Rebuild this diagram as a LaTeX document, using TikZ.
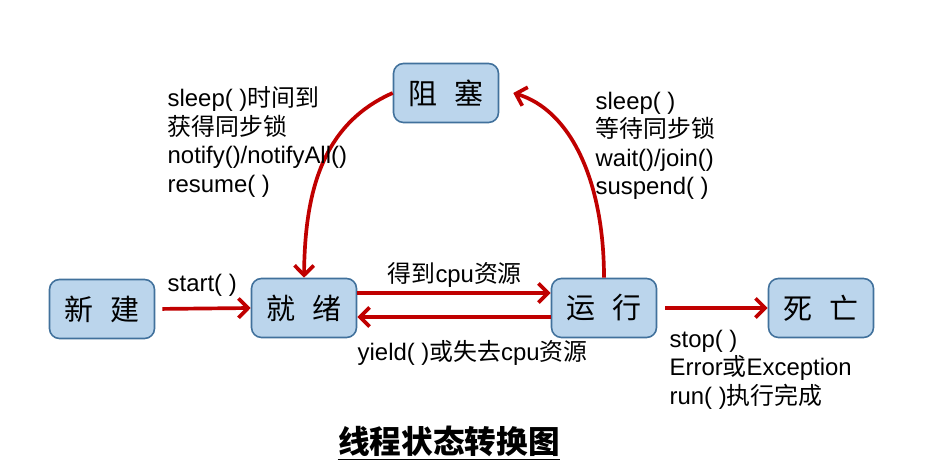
\documentclass[tikz,border=0pt]{standalone}
\usepackage{fontspec}
\setmainfont{Liberation Sans}
\newfontfamily\cjk{Noto Sans CJK SC}
\usetikzlibrary{arrows.meta}
\definecolor{boxfill}{RGB}{187,213,236}
\definecolor{boxline}{RGB}{65,113,156}
\definecolor{arrowred}{RGB}{192,0,0}

\begin{document}
\begin{tikzpicture}[>={Straight Barb[length=5.5pt,width=11pt]},thick,
  state/.style={draw=boxline,fill=boxfill,line width=0.9pt,rounded corners=0.2cm,
    minimum width=2.1cm,minimum height=1.18cm,font=\cjk\fontsize{16.5}{19}\selectfont},
  trans/.style={->,line width=2.1pt,color=arrowred},
  lbl/.style={inner sep=0pt,align=left,font=\fontsize{13.6}{16.3}\selectfont}]

\useasboundingbox (0,0) rectangle (18.76,9.38);

\node[state] (xinjian) at ( 2.04,3.20) {新\hspace{0.34cm}建};
\node[state] (jiuxu)   at ( 6.08,3.22) {就\hspace{0.34cm}绪};
\node[state] (zuse)    at ( 8.92,7.52) {阻\hspace{0.34cm}塞};
\node[state] (yunxing) at (12.08,3.22) {运\hspace{0.34cm}行};
\node[state] (siwang)  at (16.42,3.22) {死\hspace{0.34cm}亡};

\draw[trans,shorten <=0.14cm] (xinjian.east) -- (jiuxu.west);
\draw[trans] ([yshift=0.30cm]jiuxu.east) -- ([yshift=0.30cm]yunxing.west);
\draw[trans] ([yshift=-0.18cm]yunxing.west) -- ([yshift=-0.18cm]jiuxu.east);
\draw[trans,shorten <=0.16cm] (yunxing.east) -- (siwang.west);

\draw[trans] (zuse.west) .. controls (6.40,6.88) and (6.10,5.46) .. (jiuxu.north);
\draw[trans] (yunxing.north) .. controls (12.08,5.78) and (11.40,7.18) .. ([xshift=0.28cm]zuse.east);

\node[lbl,anchor=west] (lstart) at (3.34,3.68) {start( )};
\node[lbl,anchor=west] (lget)   at (7.74,3.88) {{\cjk 得到}cpu{\cjk 资源}};
\node[lbl,anchor=west] (lyield) at (7.14,2.32) {yield( ){\cjk 或失去}cpu{\cjk 资源}};

\node[lbl,anchor=north west] (lwake) at (3.34,7.66)
  {sleep( ){\cjk 时间到}\\{\cjk 获得同步锁}\\notify()/notifyAll()\\resume( )};
\node[lbl,anchor=north west] (lblock) at (11.90,7.56)
  {sleep( )\\{\cjk 等待同步锁}\\wait()/join()\\suspend( )};
\node[lbl,anchor=north west] (lstop) at (13.38,2.80)
  {stop( )\\Error{\cjk 或}Exception\\run( ){\cjk 执行完成}};

\node[inner sep=0pt,font=\cjk\bfseries\fontsize{18}{21}\selectfont] (title) at (8.98,0.56) {线程状态转换图};
\draw[line width=1pt] ([yshift=-0.05cm]title.south west) -- ([yshift=-0.05cm]title.south east);

\end{tikzpicture}
\end{document}
